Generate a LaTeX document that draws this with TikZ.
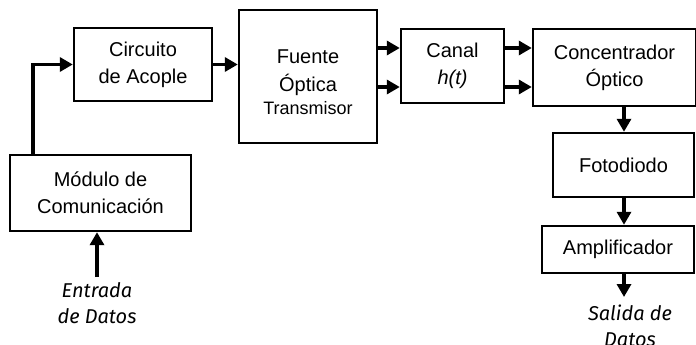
\documentclass[tikz,border=0pt]{standalone}
\usepackage{fontspec}
\setmainfont{Liberation Sans}
\newfontfamily\lblfont{Fira Sans}
\usetikzlibrary{arrows.meta}
\begin{document}
\begin{tikzpicture}[x=1pt,y=-1pt,
  blk/.style={draw, line width=2.4pt, inner sep=0pt, align=center,
    font=\fontsize{20}{27}\selectfont},
  txt/.style={align=center, inner sep=0pt, font=\fontsize{20}{28}\selectfont},
  arr/.style={line width=3.5pt, -{Triangle[length=13pt,width=14pt]}},
  lbl/.style={align=center, font=\lblfont\itshape\fontsize{20}{26}\selectfont}]
\useasboundingbox (0,0) rectangle (696,345);

% blocks
\node[blk, minimum width=181pt, minimum height=76pt] (mod) at (100.5,193) {Módulo de\\Comunicación};
\node[blk, minimum width=138pt, minimum height=73pt] (circ) at (143,64.5) {Circuito\\de Acople};
\node[blk, minimum width=138pt, minimum height=133pt] (fue) at (308,76.5) {};
\node[txt] (fuetxt) at ([yshift=-6pt]fue.center)
  {Fuente\\Óptica\\[-5pt]{\fontsize{18}{22}\selectfont Transmisor}};
\node[blk, minimum width=103pt, minimum height=74pt] (can) at (452.5,66) {Canal\\\textit{h(t)}};
\node[blk, minimum width=163pt, minimum height=77pt] (con) at (614.5,67.5) {Concentrador\\Óptico};
\node[blk, minimum width=141pt, minimum height=64pt] (fot) at (623.5,165) {Fotodiodo};
\node[blk, minimum width=152pt, minimum height=47pt] (amp) at (618,249.5) {Amplificador};

% free ends and bends
\coordinate (bend) at (33,65);
\coordinate (in) at (97,277);
\coordinate (out) at (624,297);
\coordinate (ya) at (0,48);
\coordinate (yb) at (0,87);
\coordinate (xd) at (624,0);

% connectors
\draw[arr] (mod.north -| bend) |- (circ.west);
\draw[arr] (circ.east) -- (circ.east -| fue.west);
\draw[arr] (fue.east |- ya) -- (can.west |- ya);
\draw[arr] (fue.east |- yb) -- (can.west |- yb);
\draw[arr] (can.east |- ya) -- (con.west |- ya);
\draw[arr] (can.east |- yb) -- (con.west |- yb);
\draw[arr] (con.south -| xd) -- (fot.north -| xd);
\draw[arr] (fot.south -| xd) -- (amp.north -| xd);
\draw[arr] (amp.south -| xd) -- (out);
\draw[arr] (in) -- (mod.south -| in);

% labels
\node[lbl] (ent) at (97,303) {Entrada\\de Datos};
\node[lbl] (sal) at (630,326) {Salida de\\Datos};
\end{tikzpicture}
\end{document}
